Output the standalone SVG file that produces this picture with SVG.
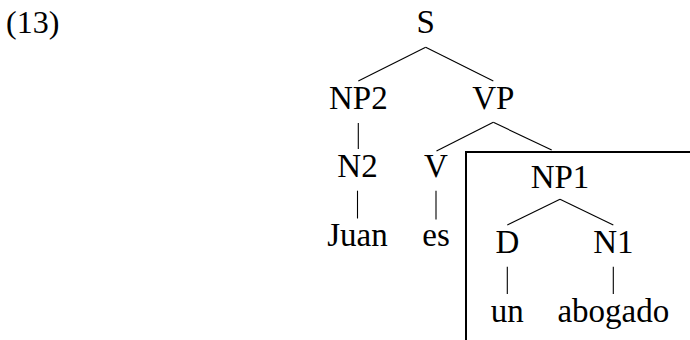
<svg xmlns="http://www.w3.org/2000/svg" width="690" height="340" viewBox="0 0 690 340">
<style>
text{font-family:"Liberation Serif","DejaVu Serif",serif;font-size:33px;fill:#000;text-anchor:middle}
.e line{stroke:#000;stroke-width:1.1}
.box{fill:none;stroke:#000;stroke-width:2}
</style>
<rect width="690" height="340" fill="#fff"/>
<text id="ex" x="6" y="33" style="text-anchor:start;font-size:32px">(13)</text>
<g class="e" id="connectors">
<line x1="425.7" y1="47.3" x2="358.3" y2="81"/>
<line x1="425.7" y1="47.3" x2="493.3" y2="81"/>
<line x1="358.3" y1="123" x2="358.3" y2="149"/>
<line x1="493.3" y1="122.3" x2="436.5" y2="151"/>
<line x1="493.3" y1="122.3" x2="551.7" y2="150"/>
<line x1="357.5" y1="190.7" x2="357.5" y2="218.5"/>
<line x1="436" y1="190.7" x2="436" y2="219.5"/>
<line x1="560" y1="199.3" x2="507.3" y2="225"/>
<line x1="560" y1="199.3" x2="613.3" y2="225"/>
<line x1="507.3" y1="266.7" x2="507.3" y2="294"/>
<line x1="613.3" y1="266.7" x2="613.3" y2="294"/>
</g>
<rect class="box" id="highlight" x="466" y="152" width="240" height="200"/>
<g id="S"><text x="425.7" y="33">S</text></g>
<g id="NP2"><text x="358.3" y="109">NP2</text></g>
<g id="VP"><text x="493.3" y="109">VP</text></g>
<g id="N2"><text x="357.5" y="176.7">N2</text></g>
<g id="V"><text x="436" y="176.7">V</text></g>
<g id="Juan"><text x="357.5" y="246">Juan</text></g>
<g id="es"><text x="436" y="246">es</text></g>
<g id="NP1"><text x="560" y="188.3">NP1</text></g>
<g id="D"><text x="507.3" y="252.7">D</text></g>
<g id="N1"><text x="613.3" y="252.7">N1</text></g>
<g id="un"><text x="507.3" y="321.7">un</text></g>
<g id="abogado"><text x="613.3" y="321.7">abogado</text></g>
</svg>
